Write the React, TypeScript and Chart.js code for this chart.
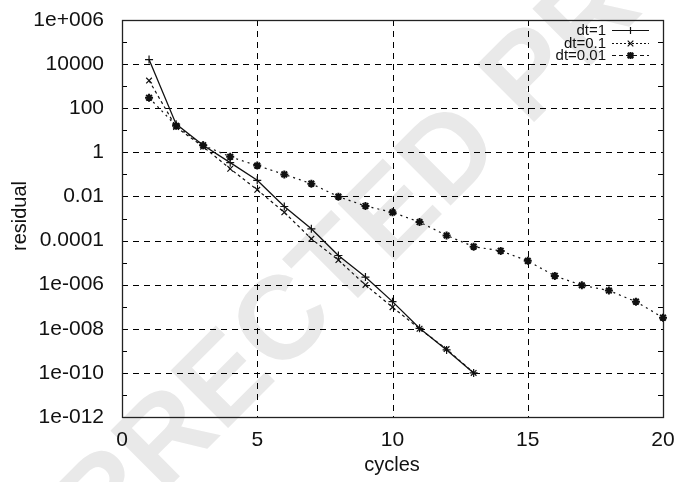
import { useEffect, useRef } from "react";
import { Chart, registerables } from "chart.js";

Chart.register(...registerables);

// ---- data ----
const cyclesA = [1, 2, 3, 4, 5, 6, 7, 8, 9, 10, 11, 12, 13];
const residualDt1 = [1.6e4, 19, 2.1, 0.34, 0.054, 3.5e-3, 3.4e-4, 2.1e-5, 2.2e-6, 1.7e-7, 1.05e-8, 1.1e-9, 1e-10];
const residualDt01 = [1.8e3, 14, 1.8, 0.18, 0.02, 1.9e-3, 1.2e-4, 1.3e-5, 9.7e-7, 9.5e-8, 1.0e-8, 1.2e-9, 1e-10];
const cyclesB = [1, 2, 3, 4, 5, 6, 7, 8, 9, 10, 11, 12, 13, 14, 15, 16, 17, 18, 19, 20];
const residualDt001 = [300, 16, 2.1, 0.63, 0.25, 0.1, 0.038, 0.0098, 0.0037, 0.0019, 6.9e-4, 1.7e-4, 5.3e-5, 3.4e-5, 1.2e-5, 2.5e-6, 9.4e-7, 5.4e-7, 1.7e-7, 3.2e-8];

const seriesLabels = ["dt=1", "dt=0.1", "dt=0.01"];
const xTickValues = [0, 5, 10, 15, 20];
const yTickValues = [1e6, 1e4, 1e2, 1, 1e-2, 1e-4, 1e-6, 1e-8, 1e-10, 1e-12];
const yTickLabels = ["1e+006", "10000", "100", "1", "0.01", "0.0001", "1e-006", "1e-008", "1e-010", "1e-012"];
const yMinorValues = [1e5, 1e3, 1e1, 1e-1, 1e-3, 1e-5, 1e-7, 1e-9, 1e-11];
const xTitle = "cycles";
const yTitle = "residual";
const watermarkText = "CORRECTED PROOF";

const FONT = "'Liberation Sans', Arial, Helvetica, sans-serif";
const INK = "#111";

const toPoints = (xs: number[], ys: number[]) => xs.map((x, i) => ({ x, y: ys[i] }));

export default function App() {
  const ref = useRef<HTMLCanvasElement>(null);

  useEffect(() => {
    if (!ref.current) return;

    const decorPlugin = {
      id: "decor",
      beforeDraw(chart: any) {
        const ctx = chart.ctx;
        ctx.save();
        ctx.fillStyle = "#fff";
        ctx.fillRect(0, 0, chart.width, chart.height);
        // watermark
        ctx.translate(378, 232);
        ctx.rotate((-45 * Math.PI) / 180);
        ctx.font = `bold 118px ${FONT}`;
        ctx.fillStyle = "#e9e9e9";
        ctx.textAlign = "center";
        ctx.textBaseline = "middle";
        ctx.fillText(watermarkText, 0, 0);
        ctx.restore();
      },
      beforeDatasetsDraw(chart: any) {
        const ctx = chart.ctx;
        const { left, right, top, bottom } = chart.chartArea;
        const xs = chart.scales.x;
        const ys = chart.scales.y;
        ctx.save();
        ctx.strokeStyle = "#000";
        ctx.lineWidth = 1;
        ctx.setLineDash([6, 5]);
        yTickValues.slice(1, -1).forEach((v) => {
          const y = Math.round(ys.getPixelForValue(v)) + 0.5;
          ctx.beginPath();
          ctx.moveTo(left, y);
          ctx.lineTo(right, y);
          ctx.stroke();
        });
        xTickValues.slice(1, -1).forEach((v) => {
          const x = Math.round(xs.getPixelForValue(v)) + 0.5;
          ctx.beginPath();
          ctx.moveTo(x, top);
          ctx.lineTo(x, bottom);
          ctx.stroke();
        });
        ctx.setLineDash([]);
        // minor ticks
        yMinorValues.forEach((v) => {
          const y = Math.round(ys.getPixelForValue(v)) + 0.5;
          ctx.beginPath();
          ctx.moveTo(left, y);
          ctx.lineTo(left + 5, y);
          ctx.moveTo(right, y);
          ctx.lineTo(right - 5, y);
          ctx.stroke();
        });
        // frame
        ctx.lineWidth = 1.3;
        ctx.strokeStyle = "#222";
        ctx.strokeRect(Math.round(left) + 0.5, Math.round(top) + 0.5, Math.round(right - left), Math.round(bottom - top));
        ctx.restore();
      },
      afterDraw(chart: any) {
        const ctx = chart.ctx;
        const ds = chart.data.datasets;
        ctx.save();
        // axis titles
        ctx.fillStyle = INK;
        ctx.font = `20px ${FONT}`;
        ctx.textAlign = "center";
        ctx.textBaseline = "middle";
        ctx.fillText(xTitle, 392, 465);
        ctx.save();
        ctx.translate(20, 216);
        ctx.rotate(-Math.PI / 2);
        ctx.fillText(yTitle, 0, 0);
        ctx.restore();
        // legend
        ctx.font = `15px ${FONT}`;
        ctx.textAlign = "right";
        const rows = [30, 42.5, 55];
        ds.forEach((d: any, i: number) => {
          const y = Math.round(rows[i]);
          ctx.fillStyle = INK;
          ctx.fillText(seriesLabels[i], 606, y + 1);
          ctx.strokeStyle = "#111";
          ctx.lineWidth = 1.2;
          ctx.setLineDash(i === 0 ? [] : i === 1 ? [2, 2] : [4, 3]);
          ctx.beginPath();
          ctx.moveTo(612, y + 0.5);
          ctx.lineTo(649, y + 0.5);
          ctx.stroke();
          ctx.setLineDash([]);
          const r = 3.5;
          const cx = 630.5;
          ctx.beginPath();
          if (d.pointStyle === "cross" || d.pointStyle === "star") {
            ctx.moveTo(cx - r, y + 0.5);
            ctx.lineTo(cx + r, y + 0.5);
            ctx.moveTo(cx, y + 0.5 - r);
            ctx.lineTo(cx, y + 0.5 + r);
          }
          if (d.pointStyle === "crossRot" || d.pointStyle === "star") {
            const q = r * 0.8;
            ctx.moveTo(cx - q, y + 0.5 - q);
            ctx.lineTo(cx + q, y + 0.5 + q);
            ctx.moveTo(cx - q, y + 0.5 + q);
            ctx.lineTo(cx + q, y + 0.5 - q);
          }
          ctx.lineWidth = d.pointStyle === "star" ? 2 : 1.2;
          ctx.stroke();
        });
        ctx.restore();
      },
    };

    const chart = new Chart(ref.current, {
      type: "line",
      data: {
        datasets: [
          {
            label: seriesLabels[0],
            data: toPoints(cyclesA, residualDt1),
            borderColor: "#111",
            borderWidth: 1.3,
            pointStyle: "cross",
            pointRadius: 4,
            pointBorderWidth: 1.2,
            pointBorderColor: "#111",
            pointBackgroundColor: "#111",
            fill: false,
          },
          {
            label: seriesLabels[1],
            data: toPoints(cyclesA, residualDt01),
            borderColor: "#111",
            borderWidth: 1.2,
            borderDash: [3, 3],
            pointStyle: "crossRot",
            pointRadius: 4,
            pointBorderWidth: 1.2,
            pointBorderColor: "#111",
            pointBackgroundColor: "#111",
            fill: false,
          },
          {
            label: seriesLabels[2],
            data: toPoints(cyclesB, residualDt001),
            borderColor: "#111",
            borderWidth: 1.2,
            borderDash: [2, 4],
            pointStyle: "star",
            pointRadius: 4,
            pointBorderWidth: 2,
            pointBorderColor: "#111",
            pointBackgroundColor: "#111",
            fill: false,
          },
        ],
      },
      options: {
        responsive: false,
        animation: false,
        devicePixelRatio: 1,
        clip: false,
        layout: { padding: { top: 20, right: 12, left: 0, bottom: 0 } },
        plugins: {
          legend: { display: false },
          tooltip: { enabled: false },
        },
        scales: {
          x: {
            type: "linear",
            min: 0,
            max: 20,
            grid: { display: false },
            border: { display: false },
            afterBuildTicks: (scale: any) => {
              scale.ticks = xTickValues.map((v) => ({ value: v }));
            },
            afterFit: (scale: any) => {
              scale.height = 65;
              scale.paddingLeft = 0;
              scale.paddingRight = 0;
            },
            ticks: {
              color: INK,
              font: { family: FONT, size: 21 },
              padding: 3,
              maxRotation: 0,
              autoSkip: false,
              callback: (v: any) => String(v),
            },
          },
          y: {
            type: "logarithmic",
            min: 1e-12,
            max: 1e6,
            grid: { display: false },
            border: { display: false },
            afterBuildTicks: (scale: any) => {
              scale.ticks = yTickValues.map((v) => ({ value: v }));
            },
            afterFit: (scale: any) => {
              scale.width = 122;
              scale.paddingTop = 0;
              scale.paddingBottom = 0;
            },
            ticks: {
              color: INK,
              font: { family: FONT, size: 21 },
              padding: 10,
              autoSkip: false,
              callback: (v: any) => {
                const i = yTickValues.findIndex((t) => Math.abs(Math.log10(t) - Math.log10(v)) < 1e-6);
                return i >= 0 ? yTickLabels[i] : "";
              },
            },
          },
        },
      } as any,
      plugins: [decorPlugin],
    });

    return () => chart.destroy();
  }, []);

  return (
    <div style={{ position: "absolute", left: 0, top: 0, width: 675, height: 482, background: "#fff" }}>
      <canvas ref={ref} width={675} height={482} style={{ display: "block", width: 675, height: 482 }} />
    </div>
  );
}
